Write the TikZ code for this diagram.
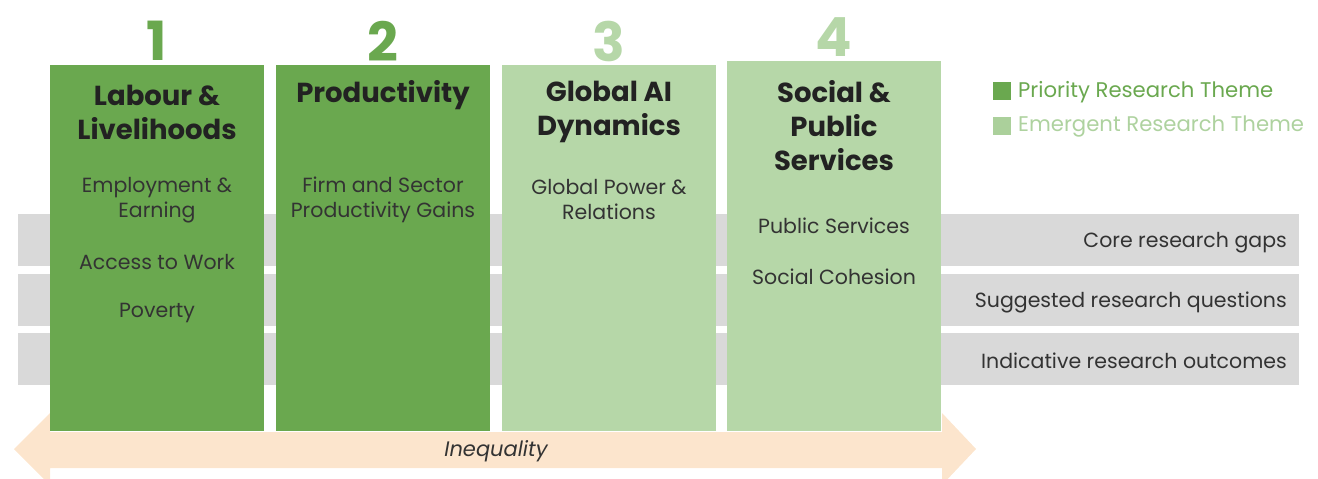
\documentclass[tikz,border=0pt]{standalone}
\usepackage{fontspec}
\setmainfont{Poppins}
\begin{document}
\definecolor{dkgreen}{HTML}{6AA84F}
\definecolor{ltgreen}{HTML}{B6D7A8}
\definecolor{band}{HTML}{D9D9D9}
\definecolor{peach}{HTML}{FCE5CD}
\definecolor{ink}{HTML}{222222}
\definecolor{softink}{HTML}{333333}
\begin{tikzpicture}[x=1pt,y=-1pt,
  colbox/.style={rectangle,draw=none,anchor=north west,minimum width=214pt,inner sep=0pt},
  bandbox/.style={rectangle,draw=none,fill=band,anchor=north west,minimum width=1281pt,minimum height=52pt,inner sep=0pt},
  num/.style={font=\bfseries\fontsize{54}{54}\selectfont,inner sep=0pt},
  ttl/.style={font=\bfseries\fontsize{27.5}{34}\selectfont,text=ink,align=center,inner sep=0pt},
  sub/.style={font=\fontsize{20.5}{25}\selectfont,text=softink,align=center,inner sep=0pt},
  rowlbl/.style={font=\fontsize{20.5}{22}\selectfont,text=softink,anchor=east,inner sep=0pt},
  legsq/.style={rectangle,draw=none,minimum size=18pt,inner sep=0pt,anchor=north west},
  legtxt/.style={font=\fontsize{21.2}{22}\selectfont,anchor=west,inner sep=0pt}]
\useasboundingbox (0,0) rectangle (1318,479);

% grey rows behind the themes
\node[bandbox] (r1) at (18,214) {};
\node[bandbox] (r2) at (18,274) {};
\node[bandbox] (r3) at (18,333) {};
\node[rowlbl] (l1) at (1287,243) {Core research gaps};
\node[rowlbl] (l2) at (1287,302) {Suggested research questions};
\node[rowlbl] (l3) at (1287,361) {Indicative research outcomes};

% double-headed inequality arrow
\fill[peach] (14,449) -- (50,413) -- (50,432) -- (942,432) -- (942,413) -- (976,449)
  -- (942,485) -- (942,468) -- (50,468) -- (50,485) -- cycle;
\node[font=\itshape\fontsize{21}{22}\selectfont,text=softink,inner sep=0pt] (ineq) at (496,451) {Inequality};

% theme columns
\node[colbox,fill=dkgreen,minimum height=366pt] (c1) at (50,65) {};
\node[colbox,fill=dkgreen,minimum height=366pt] (c2) at (276,65) {};
\node[colbox,fill=ltgreen,minimum height=366pt] (c3) at (502,65) {};
\node[colbox,fill=ltgreen,minimum height=370pt] (c4) at (727,61) {};

% theme numbers
\node[num,text=dkgreen] (n1) at (157,41) {1};
\node[num,text=dkgreen] (n2) at (383,41) {2};
\node[num,text=ltgreen] (n3) at (609,41) {3};
\node[num,text=ltgreen] (n4) at (834,37) {4};

% theme titles
\node[ttl] (t1) at (157,112) {Labour \&\\Livelihoods};
\node[ttl] (t2) at (383,95) {Productivity};
\node[ttl] (t3) at (609,112) {Global AI\\Dynamics};
\node[ttl] (t4) at (834,126) {Social \&\\Public\\Services};

% sub-themes
\node[sub] (s1a) at (157,200) {Employment \&\\Earning};
\node[sub] (s1b) at (157,262) {Access to Work};
\node[sub] (s1c) at (157,313) {Poverty};
\node[sub] (s2a) at (383,200) {Firm and Sector\\Productivity Gains};
\node[sub] (s3a) at (609,200) {Global Power \&\\Relations};
\node[sub] (s4a) at (834,226) {Public Services};
\node[sub] (s4b) at (834,277) {Social Cohesion};

% legend
\node[legsq,fill=dkgreen] (k1) at (993,82) {};
\node[legtxt,text=dkgreen] (k1t) at (1018,92) {Priority Research Theme};
\node[legsq,fill=ltgreen!85!dkgreen] (k2) at (993,117) {};
\node[legtxt,text=ltgreen!90!dkgreen] (k2t) at (1018,127) {Emergent Research Theme};
\end{tikzpicture}
\end{document}
